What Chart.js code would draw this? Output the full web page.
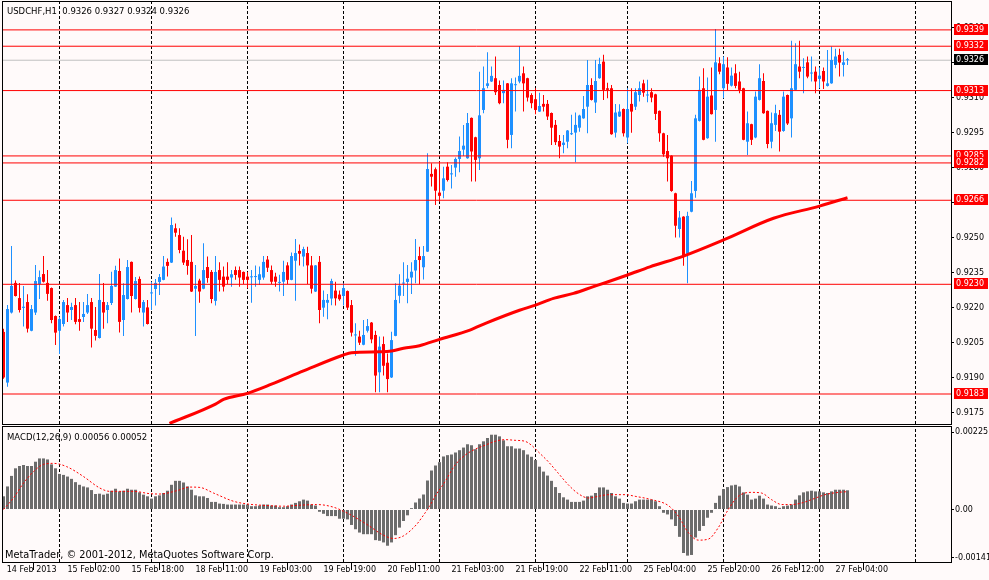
<!DOCTYPE html>
<html>
<head>
<meta charset="utf-8">
<title>USDCHF,H1</title>
<script src="https://cdn.jsdelivr.net/npm/chart.js@4.4.1/dist/chart.umd.min.js"></script>
<style>
html,body{margin:0;padding:0;background:#FFFAFA;}
#wrap{position:relative;width:989px;height:580px;overflow:hidden;background:#FFFAFA;}
#c1{position:absolute;left:0;top:0;}
#c2{position:absolute;left:0;top:426px;}
</style>
</head>
<body>
<div id="wrap">
<canvas id="c1" width="989" height="426"></canvas>
<canvas id="c2" width="989" height="154"></canvas>
</div>
<script>
// ---------- DATA (USDCHF H1, 14 Feb 2013 10:00 .. 27 Feb 2013 07:00) ----------
const openP = [
0.92096,0.91879,0.92179,0.92306,0.92241,0.92199,0.92224,0.92101,0.92179,0.92301,
0.92344,0.92306,0.92284,0.92164,0.92101,0.92130,0.92211,0.92190,0.92211,0.92151,
0.92160,0.92179,0.92224,0.92104,0.92070,0.92224,0.92190,0.92220,0.92290,0.92357,
0.92147,0.92237,0.92396,0.92237,0.92323,0.92179,0.92201,0.92261,0.92280,0.92310,
0.92319,0.92396,0.92393,0.92540,0.92511,0.92444,0.92404,0.92396,0.92281,0.92316,
0.92281,0.92374,0.92353,0.92229,0.92361,0.92333,0.92333,0.92329,0.92361,0.92361,
0.92353,0.92333,0.92330,0.92331,0.92319,0.92329,0.92406,0.92361,0.92333,0.92306,
0.92311,0.92381,0.92319,0.92401,0.92443,0.92419,0.92434,0.92381,0.92269,0.92396,
0.92200,0.92221,0.92239,0.92273,0.92256,0.92250,0.92271,0.92211,0.92081,0.92076,
0.92041,0.92101,0.92136,0.92083,0.91923,0.92044,0.91964,0.91901,0.92079,0.92251,
0.92303,0.92310,0.92329,0.92359,0.92421,0.92373,0.92440,0.92773,0.92793,0.92693,
0.92701,0.92804,0.92771,0.92800,0.92837,0.92877,0.92840,0.93013,0.92930,0.92840,
0.93047,0.93150,0.93169,0.93183,0.93154,0.93119,0.93161,0.92940,0.93153,0.93169,
0.93204,0.93183,0.93111,0.93093,0.93040,0.93073,0.93073,0.93034,0.92983,0.92914,
0.92897,0.92911,0.92943,0.92950,0.92971,0.93011,0.93061,0.93154,0.93079,0.93183,
0.93254,0.93140,0.93140,0.92950,0.93019,0.93051,0.92929,0.93073,0.93061,0.93111,
0.93161,0.93109,0.93123,0.93114,0.93043,0.92947,0.92871,0.92851,0.92690,0.92537,
0.92590,0.92431,0.92611,0.92700,0.93000,0.93140,0.92926,0.93109,0.93047,0.93247,
0.93140,0.93229,0.93151,0.93204,0.93169,0.93140,0.92911,0.92986,0.92929,0.93090,
0.93171,0.93043,0.92911,0.92983,0.93026,0.92957,0.93111,0.93011,0.93133,0.93233,
0.93227,0.93251,0.93203,0.93211,0.93180,0.93214,0.93150,0.93161,0.93240,0.93283,
0.93240,0.93260];
const highP = [
0.92110,0.92211,0.92464,0.92316,0.92306,0.92293,0.92257,0.92211,0.92383,0.92359,
0.92421,0.92361,0.92286,0.92166,0.92161,0.92233,0.92241,0.92221,0.92241,0.92224,
0.92224,0.92259,0.92241,0.92203,0.92344,0.92306,0.92224,0.92354,0.92379,0.92411,
0.92304,0.92404,0.92398,0.92331,0.92333,0.92233,0.92233,0.92311,0.92323,0.92344,
0.92421,0.92411,0.92586,0.92561,0.92540,0.92504,0.92493,0.92511,0.92383,0.92324,
0.92476,0.92419,0.92361,0.92421,0.92394,0.92376,0.92394,0.92361,0.92376,0.92376,
0.92355,0.92353,0.92361,0.92381,0.92376,0.92421,0.92421,0.92381,0.92350,0.92341,
0.92401,0.92394,0.92436,0.92494,0.92471,0.92461,0.92461,0.92421,0.92383,0.92421,
0.92273,0.92259,0.92324,0.92311,0.92273,0.92304,0.92273,0.92233,0.92133,0.92101,
0.92147,0.92151,0.92138,0.92101,0.92076,0.92076,0.92004,0.92097,0.92304,0.92343,
0.92394,0.92383,0.92394,0.92494,0.92461,0.92464,0.92861,0.92819,0.92800,0.92826,
0.92804,0.92823,0.92811,0.92843,0.92933,0.92983,0.93034,0.93015,0.92932,0.93211,
0.93233,0.93294,0.93233,0.93276,0.93173,0.93173,0.93163,0.93183,0.93186,0.93321,
0.93233,0.93185,0.93119,0.93140,0.93121,0.93111,0.93090,0.93036,0.93004,0.92940,
0.92940,0.92961,0.93026,0.93036,0.93026,0.93107,0.93261,0.93183,0.93261,0.93271,
0.93283,0.93164,0.93154,0.93073,0.93071,0.93053,0.93140,0.93140,0.93140,0.93169,
0.93176,0.93176,0.93140,0.93116,0.93045,0.92949,0.92940,0.92853,0.92692,0.92614,
0.92592,0.92611,0.92743,0.93026,0.93190,0.93226,0.93186,0.93229,0.93394,0.93273,
0.93276,0.93273,0.93229,0.93243,0.93211,0.93142,0.93040,0.92988,0.93126,0.93243,
0.93204,0.93045,0.93036,0.93069,0.93047,0.93126,0.93113,0.93343,0.93333,0.93343,
0.93269,0.93276,0.93276,0.93233,0.93229,0.93229,0.93304,0.93319,0.93309,0.93309,
0.93297,0.93270];
const lowP = [
0.91895,0.91861,0.92175,0.92248,0.92179,0.92119,0.92093,0.92099,0.92169,0.92237,
0.92308,0.92230,0.92133,0.92040,0.92001,0.92119,0.92139,0.92147,0.92129,0.92101,
0.92139,0.92173,0.92029,0.92059,0.92068,0.92110,0.92133,0.92211,0.92288,0.92093,
0.92079,0.92235,0.92179,0.92235,0.92179,0.92119,0.92128,0.92190,0.92209,0.92254,
0.92317,0.92333,0.92391,0.92504,0.92433,0.92383,0.92341,0.92267,0.92079,0.92221,
0.92279,0.92307,0.92219,0.92209,0.92269,0.92269,0.92301,0.92290,0.92319,0.92290,
0.92301,0.92283,0.92221,0.92290,0.92297,0.92319,0.92353,0.92301,0.92290,0.92269,
0.92250,0.92301,0.92317,0.92230,0.92381,0.92376,0.92301,0.92261,0.92267,0.92133,
0.92161,0.92150,0.92210,0.92209,0.92230,0.92209,0.92190,0.92076,0.91994,0.92040,
0.92039,0.92093,0.92047,0.91837,0.91837,0.91909,0.91837,0.91899,0.92077,0.92219,
0.92250,0.92219,0.92259,0.92304,0.92300,0.92321,0.92438,0.92719,0.92640,0.92654,
0.92669,0.92740,0.92711,0.92761,0.92780,0.92850,0.92838,0.92740,0.92740,0.92790,
0.93033,0.93140,0.93167,0.93111,0.93071,0.93076,0.92883,0.92883,0.93040,0.93161,
0.93040,0.93083,0.93054,0.93029,0.93038,0.93040,0.93004,0.92897,0.92897,0.92840,
0.92861,0.92883,0.92940,0.92823,0.92954,0.93009,0.92947,0.93088,0.93034,0.93181,
0.93090,0.93097,0.92941,0.92929,0.93017,0.92933,0.92904,0.92949,0.93047,0.93083,
0.93104,0.93080,0.93080,0.93004,0.92911,0.92847,0.92740,0.92697,0.92500,0.92500,
0.92380,0.92304,0.92609,0.92671,0.92998,0.92917,0.92924,0.93027,0.92911,0.93200,
0.93097,0.93133,0.93147,0.93140,0.93119,0.92917,0.92854,0.92897,0.92926,0.93088,
0.93031,0.92883,0.92883,0.92957,0.92869,0.92954,0.92983,0.92929,0.93131,0.93183,
0.93119,0.93183,0.93169,0.93119,0.93140,0.93137,0.93148,0.93159,0.93226,0.93190,
0.93190,0.93240];
const closeP = [
0.91901,0.92194,0.92293,0.92250,0.92190,0.92204,0.92110,0.92194,0.92314,0.92331,
0.92311,0.92259,0.92147,0.92093,0.92151,0.92224,0.92179,0.92203,0.92139,0.92139,
0.92173,0.92211,0.92110,0.92079,0.92233,0.92179,0.92211,0.92293,0.92361,0.92139,
0.92254,0.92374,0.92250,0.92314,0.92199,0.92224,0.92130,0.92264,0.92306,0.92331,
0.92376,0.92379,0.92554,0.92521,0.92447,0.92393,0.92379,0.92269,0.92293,0.92269,
0.92361,0.92327,0.92237,0.92353,0.92319,0.92290,0.92319,0.92343,0.92340,0.92329,
0.92319,0.92319,0.92333,0.92334,0.92343,0.92396,0.92371,0.92311,0.92311,0.92309,
0.92353,0.92319,0.92421,0.92434,0.92431,0.92451,0.92381,0.92281,0.92381,0.92190,
0.92233,0.92233,0.92314,0.92240,0.92236,0.92284,0.92200,0.92093,0.92084,0.92050,
0.92083,0.92121,0.92064,0.91909,0.92033,0.91951,0.91894,0.92061,0.92233,0.92294,
0.92306,0.92324,0.92354,0.92404,0.92404,0.92421,0.92794,0.92761,0.92701,0.92679,
0.92754,0.92747,0.92774,0.92837,0.92871,0.92894,0.92991,0.92869,0.92833,0.93024,
0.93140,0.93161,0.93193,0.93123,0.93076,0.93133,0.92919,0.93161,0.93156,0.93193,
0.93161,0.93100,0.93076,0.93047,0.93064,0.93061,0.93019,0.92971,0.92909,0.92890,
0.92907,0.92959,0.92946,0.92983,0.93023,0.93051,0.93154,0.93090,0.93171,0.93244,
0.93133,0.93133,0.92943,0.93036,0.93040,0.92947,0.93051,0.93040,0.93123,0.93140,
0.93121,0.93111,0.93100,0.93030,0.92947,0.92857,0.92840,0.92700,0.92551,0.92586,
0.92419,0.92593,0.92690,0.93011,0.93133,0.92919,0.93104,0.93029,0.93251,0.93211,
0.93243,0.93159,0.93194,0.93150,0.93133,0.92919,0.92990,0.92919,0.93104,0.93183,
0.93033,0.92901,0.92990,0.93033,0.92954,0.93104,0.92989,0.93140,0.93243,0.93211,
0.93230,0.93190,0.93206,0.93169,0.93194,0.93169,0.93161,0.93261,0.93276,0.93250,
0.93251,0.93260];

// moving average, read at sampled bar positions
const maIndex = [41.5,53,55,61,67,75,85,87,94,97,100,104,109,116.6,120.8,129,133,137.5,142.5,147.5,150.8,156,161.6,170,180,192.5,204,211];
const maValue = [0.91704,0.91787,0.91807,0.91833,0.91872,0.91929,0.91997,0.92007,0.92011,0.92014,0.92026,0.92037,0.92064,0.92104,0.92135,0.92189,0.92211,0.92240,0.92261,0.92290,0.92309,0.92340,0.92375,0.92421,0.92490,0.92583,0.92635,0.92671];

// MACD(12,26,9) histogram (main line) per bar
const macdHist = [
0.000384,0.000672,0.000979,0.00120,0.001267,0.001296,0.001267,0.001267,0.001392,0.001488,
0.001488,0.001459,0.001315,0.00120,0.001037,0.001008,0.00096,0.000893,0.000797,0.00072,
0.000672,0.000643,0.000566,0.000451,0.000461,0.000432,0.000461,0.000547,0.000605,0.000528,
0.000547,0.000605,0.000576,0.000576,0.000499,0.000432,0.000384,0.000317,0.000384,0.000413,
0.00048,0.000547,0.00072,0.000835,0.000835,0.000787,0.000672,0.000576,0.000413,0.000384,
0.000384,0.000336,0.000221,0.000221,0.000173,0.000163,0.000144,0.000144,0.000144,0.000144,
0.000144,0.000144,0.000096,0.000096,0.000115,0.000144,0.000144,0.000115,0.000115,0.000067,
0.000067,0.000096,0.000144,0.000192,0.00024,0.000288,0.000259,0.000144,0.000115,-0.000067,
-0.000125,-0.000192,-0.000192,-0.000192,-0.000269,-0.000269,-0.000288,-0.000451,-0.000576,-0.000672,
-0.00072,-0.00072,-0.00072,-0.000893,-0.000912,-0.00096,-0.001056,-0.00096,-0.000749,-0.000528,
-0.000336,-0.000170,0.000040,0.000204,0.00032,0.000437,0.000845,0.001136,0.001282,0.001379,
0.001545,0.001584,0.001603,0.001661,0.001728,0.001805,0.001901,0.001872,0.001757,0.001901,
0.001987,0.002083,0.002179,0.002179,0.002131,0.002016,0.001843,0.001843,0.001776,0.001776,
0.001728,0.001603,0.001536,0.00144,0.001248,0.001104,0.000989,0.000835,0.000653,0.00048,
0.000355,0.000288,0.000221,0.000221,0.000221,0.000259,0.000384,0.000403,0.00048,0.000643,
0.000643,0.000576,0.00048,0.000384,0.000317,0.000192,0.000173,0.000173,0.00024,0.000288,
0.000288,0.000288,0.000288,0.00024,0.000096,-0.000096,-0.000144,-0.000288,-0.00048,-0.000797,
-0.001267,-0.001344,-0.001325,-0.000816,-0.000624,-0.00048,-0.00024,-0.000096,0.000192,0.000403,
0.000595,0.000653,0.000701,0.00072,0.000672,0.000499,0.000432,0.000288,0.000317,0.000403,
0.000317,0.000144,0.000115,0.000096,0.000048,0.000096,0.000115,0.000144,0.000288,0.000413,
0.000499,0.000528,0.000547,0.000528,0.000528,0.000499,0.00048,0.000528,0.000576,0.000576,
0.000576,0.00056];

// MACD signal line, read at sampled bar positions
const signalIndex = [0,2.5,5,7.5,10,12.5,15.8,20,24.1,26.6,32.5,36.6,39.1,43.3,46.6,49.1,52.5,57.5,60.8,65.8,70,74.1,78.3,82.5,86.6,90.8,95,97.5,100,103.3,104.5,105.5,106.5,107.9,110.4,112.9,115.4,117.9,120.4,122.9,125.4,127.9,130.4,132,133.7,136.2,138.7,141.2,143.7,146.2,148.7,151.2,155.4,157.9,162,166.2,168.7,171.2,173.7,176.2,178.7,181.2,183.7,187,189.5,192,194.6,197,199.6,202,205.4,208.7,211];
const signalValue = [0,0.000336,0.000768,0.001104,0.001315,0.001344,0.001248,0.00096,0.000624,0.000528,0.000528,0.000461,0.000451,0.000547,0.000653,0.000643,0.00048,0.00024,0.000163,0.000115,0.000096,0.000125,0.000144,0.000067,-0.000144,-0.000432,-0.000749,-0.000845,-0.000768,-0.000432,-0.000248,-0.000082,0.000093,0.000384,0.000816,0.001296,0.001584,0.001757,0.001872,0.001987,0.002035,0.002016,0.001987,0.001872,0.00168,0.001392,0.001056,0.00072,0.000461,0.000336,0.000384,0.000432,0.000432,0.000384,0.000288,0.000115,-0.000192,-0.000672,-0.000893,-0.000864,-0.000528,0,0.000384,0.000499,0.00048,0.000288,0.000144,0.000144,0.000192,0.000288,0.000432,0.000499,0.00052];

// horizontal levels and axis ticks
const levelPrices = [0.9339,0.9332,0.9313,0.9285,0.9282,0.9266,0.9230,0.9183];
const bidPrice = 0.9326;
const priceTicks = [0.9175,0.9190,0.9205,0.9220,0.9235,0.9250,0.9265,0.9280,0.9295,0.9310,0.9325,0.9340];
const macdTicks = [0.00225,0,-0.00141];
const macdTickLabels = ["0.00225","0.00","-0.00141"];
const timeLabels = ["14 Feb 2013","15 Feb 02:00","15 Feb 18:00","18 Feb 11:00","19 Feb 03:00","19 Feb 19:00","20 Feb 11:00","21 Feb 03:00","21 Feb 19:00","22 Feb 11:00","25 Feb 04:00","25 Feb 20:00","26 Feb 12:00","27 Feb 04:00"];
const timeLabelBar = [0,16,32,48,64,80,96,112,128,144,160,176,192,208];
const dayBoundaryIndex = [14,37,61,85,109,133,156,180,204,228];
const chartTitle = "USDCHF,H1  0.9326 0.9327 0.9324 0.9326";
const macdTitle = "MACD(12,26,9) 0.00056 0.00052";
const copyright = "MetaTrader, \u00A9 2001-2012, MetaQuotes Software Corp.";

// ---------- CHARTS ----------
const X_MIN = -0.375, X_MAX = 236.875;
const P_MIN = 0.917015, P_MAX = 0.935095;
const M_MIN = -0.00153, M_MAX = 0.002433;
const UP = '#1E90FF', DOWN = '#FF0000';
const FONT = "'DejaVu Sans', 'Noto Sans', sans-serif";

Chart.defaults.font.family = FONT;
Chart.defaults.font.size = 8;
Chart.defaults.color = '#000';
Chart.defaults.animation = false;

const idx = openP.map((_, i) => i);
const candleColor = idx.map(i => closeP[i] >= openP[i] ? UP : DOWN);

function vLines(ymin, ymax) {
  const d = [];
  dayBoundaryIndex.forEach(g => { d.push({x:g, y:ymin}, {x:g, y:ymax}, {x:g, y:null}); });
  return d;
}
function hLines(levels) {
  const d = [];
  levels.forEach(p => { d.push({x:X_MIN, y:p}, {x:X_MAX, y:p}, {x:X_MAX, y:null}); });
  return d;
}

const mainPlugin = {
  id: 'mainDeco',
  afterDraw(chart) {
    const ctx = chart.ctx, a = chart.chartArea, ys = chart.scales.y;
    ctx.save();
    ctx.strokeStyle = '#000'; ctx.lineWidth = 1;
    ctx.strokeRect(a.left + 0.5, a.top - 0.5, a.right - a.left, a.bottom - a.top + 1);
    ctx.fillStyle = '#000';
    ctx.font = '8.5px ' + FONT;
    ctx.textBaseline = 'alphabetic';
    ctx.textAlign = 'left';
    ctx.fillText(chartTitle, 7, 14);
    const boxes = levelPrices.map(p => ({p, c:'#FF0000'})).concat([{p:bidPrice, c:'#000000'}]);
    boxes.sort((u, v) => v.p - u.p);
    ctx.font = '8px ' + FONT;
    ctx.textBaseline = 'middle';
    boxes.forEach(b => {
      const y = Math.round(ys.getPixelForValue(b.p));
      ctx.fillStyle = b.c;
      ctx.fillRect(954, y - 6, 34, 11);
      ctx.fillStyle = '#FFFFFF';
      ctx.fillText(b.p.toFixed(4), 956, y);
    });
    ctx.restore();
  }
};

const macdPlugin = {
  id: 'macdDeco',
  afterDraw(chart) {
    const ctx = chart.ctx, a = chart.chartArea;
    ctx.save();
    ctx.strokeStyle = '#000'; ctx.lineWidth = 1;
    ctx.strokeRect(a.left + 0.5, a.top + 0.5, a.right - a.left, a.bottom - a.top);
    ctx.fillStyle = '#000';
    ctx.textAlign = 'left';
    ctx.textBaseline = 'alphabetic';
    ctx.font = '8.5px ' + FONT;
    ctx.fillText(macdTitle, 7, 14);
    ctx.font = '9.8px ' + FONT;
    ctx.fillText(copyright, 5, 132);
    ctx.restore();
  }
};

new Chart(document.getElementById('c1'), {
  type: 'bar',
  data: {
    datasets: [
      {type:'line', data: vLines(P_MIN, P_MAX), borderColor:'#000', borderWidth:1, borderDash:[3,2], pointRadius:0, spanGaps:false, order:10},
      {type:'line', data: [{x:X_MIN, y:bidPrice}, {x:X_MAX, y:bidPrice}], borderColor:'#C0C0C0', borderWidth:1, pointRadius:0, order:9},
      {type:'bar', data: idx.map(i => ({x:i, y:[lowP[i], highP[i]]})), backgroundColor:candleColor, barThickness:1, grouped:false, minBarLength:1, borderWidth:0, inflateAmount:0, order:8},
      {type:'bar', data: idx.map(i => ({x:i, y:[openP[i], closeP[i]]})), backgroundColor:candleColor, barThickness:3, grouped:false, minBarLength:1, borderWidth:0, inflateAmount:0, order:7},
      {type:'line', data: maIndex.map((x, k) => ({x, y:maValue[k]})), borderColor:'#FF0000', borderWidth:3, pointRadius:0, cubicInterpolationMode:'monotone', order:3},
      {type:'line', data: hLines(levelPrices), borderColor:'#FF0000', borderWidth:1, pointRadius:0, spanGaps:false, order:2}
    ]
  },
  options: {
    responsive:false, maintainAspectRatio:false, devicePixelRatio:1, animation:false, events:[],
    layout: {padding:{left:2, right:0, top:2, bottom:2}},
    plugins: {legend:{display:false}, tooltip:{enabled:false}},
    scales: {
      x: {type:'linear', display:false, min:X_MIN, max:X_MAX, offset:false},
      y: {
        type:'linear', position:'right', min:P_MIN, max:P_MAX, beginAtZero:false,
        afterBuildTicks: s => { s.ticks = priceTicks.map(v => ({value:v})); },
        afterFit: s => { s.width = 38; s.paddingTop = 0; s.paddingBottom = 0; },
        ticks: {callback: v => Number(v).toFixed(4), padding:2, autoSkip:false, font:{size:8}},
        grid: {drawOnChartArea:false, drawTicks:true, tickLength:3, color:'#000', tickColor:'#000'},
        border: {display:false}
      }
    }
  },
  plugins: [mainPlugin]
});

new Chart(document.getElementById('c2'), {
  type: 'bar',
  data: {
    datasets: [
      {type:'line', data: vLines(M_MIN, M_MAX), borderColor:'#000', borderWidth:1, borderDash:[3,2], pointRadius:0, spanGaps:false, order:10},
      {type:'bar', data: macdHist.map((v, i) => ({x:i, y:v})), backgroundColor:'#6C6C6C', barThickness:3, grouped:false, borderWidth:0, inflateAmount:0, order:5},
      {type:'line', data: signalIndex.map((x, k) => ({x, y:signalValue[k]})), borderColor:'#FF0000', borderWidth:1, borderDash:[2,2], pointRadius:0, cubicInterpolationMode:'monotone', order:2}
    ]
  },
  options: {
    responsive:false, maintainAspectRatio:false, devicePixelRatio:1, animation:false, events:[],
    layout: {padding:{left:2, right:0, top:0, bottom:0}},
    plugins: {legend:{display:false}, tooltip:{enabled:false}},
    scales: {
      x: {
        type:'linear', position:'bottom', min:X_MIN, max:X_MAX, offset:false,
        afterBuildTicks: s => { s.ticks = timeLabelBar.map((b, k) => ({value: k === 0 ? -0.2 : b - 1})); },
        afterFit: s => { s.height = 18; s.paddingLeft = 0; s.paddingRight = 0; },
        ticks: {callback: (v, k) => timeLabels[k], autoSkip:false, maxRotation:0, minRotation:0, align:'start', labelOffset:4, padding:-5, font:{size:8}},
        grid: {drawOnChartArea:false, drawTicks:true, tickLength:8, color:'#000', tickColor:'#000'},
        border: {display:false}
      },
      y: {
        type:'linear', position:'right', min:M_MIN, max:M_MAX, beginAtZero:false,
        afterBuildTicks: s => { s.ticks = macdTicks.map(v => ({value:v})); },
        afterFit: s => { s.width = 38; s.paddingTop = 0; s.paddingBottom = 0; },
        ticks: {callback: (v, k) => macdTickLabels[k], padding:1, autoSkip:false, font:{size:8}},
        grid: {drawOnChartArea:false, drawTicks:true, tickLength:3, color:'#000', tickColor:'#000'},
        border: {display:false}
      }
    }
  },
  plugins: [macdPlugin]
});
</script>
</body>
</html>
